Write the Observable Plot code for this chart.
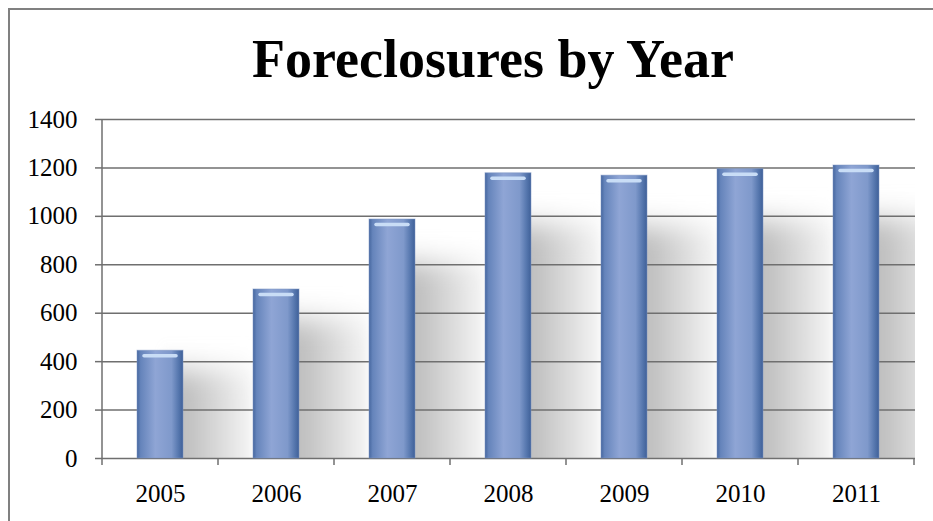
<!DOCTYPE html>
<html><head><meta charset="utf-8">
<script src="https://cdn.jsdelivr.net/npm/d3@7"></script>
<script src="https://cdn.jsdelivr.net/npm/@observablehq/plot@0.6"></script>
<style>
html,body{margin:0;padding:0;background:#fff;}
body{width:933px;height:521px;overflow:hidden;position:relative;font-family:"Liberation Serif",serif;}
#frame{position:absolute;left:8px;top:8px;width:980px;height:580px;border:2px solid #808080;box-sizing:border-box;}
#title{position:absolute;left:93px;top:32px;width:800px;text-align:center;font-size:54px;line-height:54px;font-weight:bold;color:#000;font-family:"Liberation Serif",serif;}
#chart{position:absolute;left:0;top:100px;}
</style></head>
<body>
<div id="frame"></div>
<div id="title">Foreclosures by Year</div>
<div id="chart"></div>
<script>
const years = ["2005", "2006", "2007", "2008", "2009", "2010", "2011"];
const foreclosures = [445, 698, 987, 1178, 1168, 1195, 1210];
const yTicks = [0, 200, 400, 600, 800, 1000, 1200, 1400];

const data = years.map((year, i) => ({year, value: foreclosures[i]}));

function bandInfo(x) {
  const bw = typeof x.bandwidth === "function" ? x.bandwidth() : x.bandwidth;
  const step = x(years[1]) - x(years[0]);
  return {bw, step};
}

function shadowRender(index, scales, values, dims) {
  const {x, y} = scales;
  const {bw, step} = bandInfo(x);
  const gap = step - bw;
  const g = d3.create("svg:g");
  const defs = g.append("defs");
  const cp = defs.append("clipPath").attr("id", "plotClip");
  cp.append("rect").attr("x", dims.marginLeft).attr("y", dims.marginTop)
    .attr("width", dims.width - dims.marginLeft - dims.marginRight)
    .attr("height", dims.height - dims.marginTop - dims.marginBottom);
  const f = defs.append("filter").attr("id", "shBlur")
    .attr("x", "-30%").attr("y", "-30%").attr("width", "160%").attr("height", "160%");
  f.append("feGaussianBlur").attr("stdDeviation", "4 14");
  const sg = defs.append("linearGradient").attr("id", "shGrad").attr("x1", 0).attr("x2", 1).attr("y1", 0).attr("y2", 0);
  sg.append("stop").attr("offset", "0").attr("stop-color", "#bababa");
  sg.append("stop").attr("offset", "0.3").attr("stop-color", "#c2c2c2");
  sg.append("stop").attr("offset", "1").attr("stop-color", "#f6f6f6");
  const bg = defs.append("linearGradient").attr("id", "barGrad").attr("x1", 0).attr("x2", 1).attr("y1", 0).attr("y2", 0);
  [[0, "#46679f"], [0.08, "#6584bb"], [0.4, "#8fa5d5"], [0.75, "#7f99cb"], [0.9, "#5677ae"], [1, "#3f6098"]]
    .forEach(([o, c]) => bg.append("stop").attr("offset", o).attr("stop-color", c));
  const sgrp = g.append("g").attr("clip-path", "url(#plotClip)").append("g").attr("filter", "url(#shBlur)");
  const y0 = y(0);
  for (const d of data) {
    const xs = x(d.year) + bw * 0.55;
    const top = y(d.value * 0.82);
    sgrp.append("rect").attr("x", xs).attr("y", top)
      .attr("width", bw * 0.45 + gap).attr("height", y0 - top + 40)
      .attr("fill", "url(#shGrad)");
  }
  return g.node();
}

function axisLinesRender(index, scales, values, dims) {
  const {x, y} = scales;
  const {bw, step} = bandInfo(x);
  const g = d3.create("svg:g").attr("stroke", "#6f6f6f").attr("stroke-width", 1.5);
  const left = x(years[0]) - (step - bw) / 2;
  g.append("line").attr("x1", left).attr("x2", left).attr("y1", y(1400)).attr("y2", y(0));
  for (let i = 0; i <= years.length; i++) {
    const xx = left + i * step;
    g.append("line").attr("x1", xx).attr("x2", xx).attr("y1", y(0)).attr("y2", y(0) + 7);
  }
  return g.node();
}

const chart = Plot.plot({
  width: 933,
  height: 421,
  marginTop: 19,
  marginBottom: 63,
  marginLeft: 102,
  marginRight: 18,
  style: {fontFamily: "Liberation Serif, serif", fontSize: "25px", color: "#000", background: "transparent", overflow: "visible"},
  x: {domain: years, paddingInner: 0.6, paddingOuter: 0.3, axis: null, label: null},
  y: {domain: [0, 1400], axis: null, label: null},
  marks: [
    shadowRender,
    Plot.gridY(yTicks, {stroke: "#6f6f6f", strokeOpacity: 1, strokeWidth: 1.5}),
    axisLinesRender,
    Plot.axisY(yTicks, {tickSize: 7, tickPadding: 18, stroke: "#6f6f6f", strokeWidth: 1.5, fontSize: 25, fill: "#000", tickFormat: d3.format("d"), label: null}),
    Plot.axisX(years, {tickSize: 0, tickPadding: 26, fontSize: 25, fill: "#000", label: null}),
    Plot.barY(data, {x: "year", y: "value", fill: "url(#barGrad)", stroke: "#7d95c4", strokeOpacity: 0.5, strokeWidth: 1}),
    Plot.tickY(data, {x: "year", y: "value", stroke: "#c9ddf6", strokeWidth: 3.5, dy: 5, inset: 7, strokeLinecap: "round"})
  ]
});
document.getElementById("chart").appendChild(chart);
</script>
</body></html>
